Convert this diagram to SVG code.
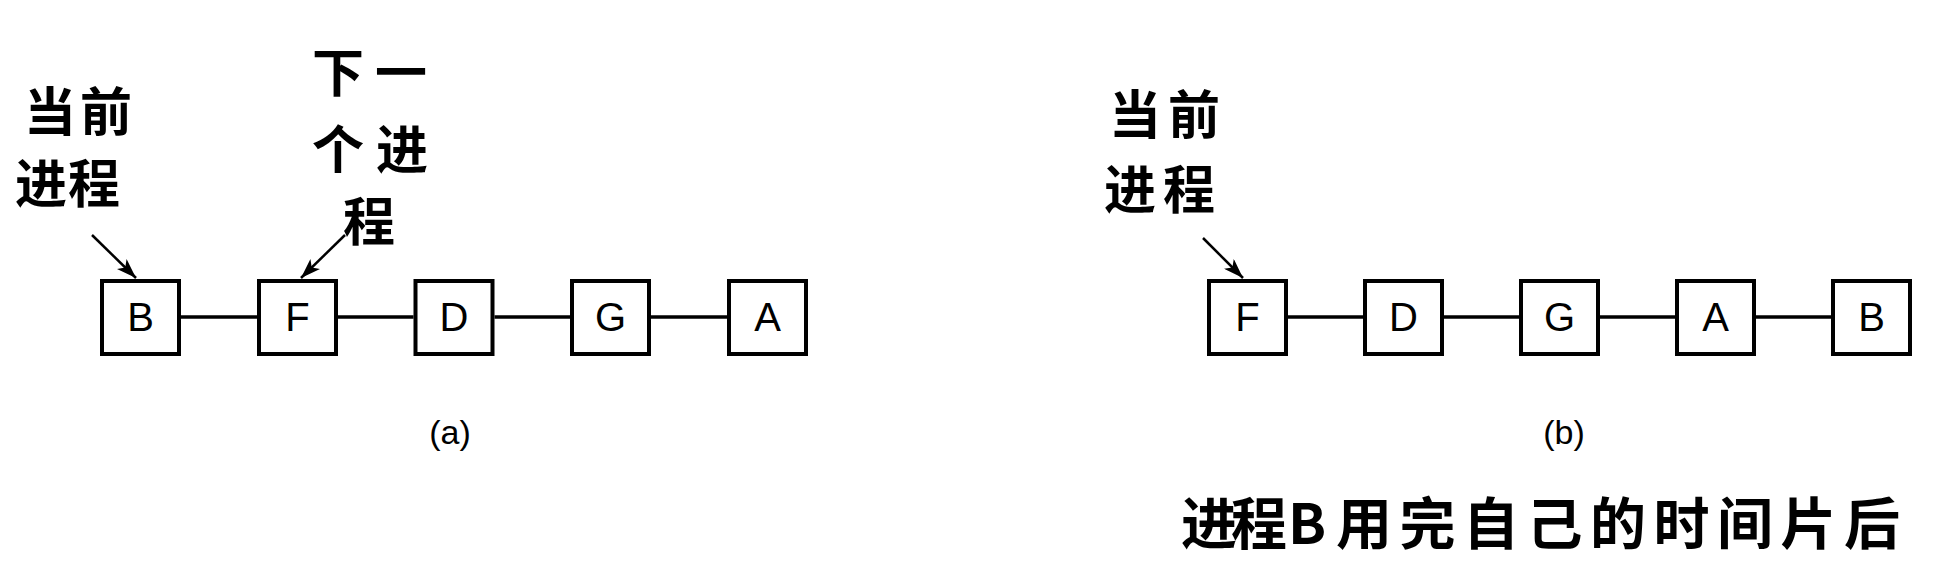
<svg xmlns="http://www.w3.org/2000/svg" width="1950" height="580" viewBox="0 0 1950 580">
<style>
.box{fill:#fff;stroke:#000;stroke-width:4}
.lbl{font-family:"Liberation Sans",Arial,sans-serif;font-size:40px;text-anchor:middle;fill:#000}
.cap{font-family:"Liberation Sans",Arial,sans-serif;font-size:34px;text-anchor:middle;fill:#000}
.cjk{font-family:"Noto Sans CJK SC","Noto Sans",sans-serif;font-weight:700;font-size:52px;fill:#000}
.big{font-family:"Noto Sans CJK SC","Noto Sans",sans-serif;font-weight:700;font-size:56px;fill:#000}
.link{stroke:#000;stroke-width:3.5;fill:none}
.arr{stroke:#000;stroke-width:2.5;fill:none;marker-end:url(#ah)}
</style>
<defs>
<marker id="ah" markerUnits="userSpaceOnUse" markerWidth="22" markerHeight="14" refX="20" refY="7" orient="auto">
<path d="M0,0 L20,7 L0,14 L5,7 Z" fill="#000"/>
</marker>
</defs>
<rect width="1950" height="580" fill="#fff"/>
<g id="connectors">
<line class="link" x1="181" y1="317" x2="257" y2="317"/>
<line class="link" x1="338" y1="317" x2="413.5" y2="317"/>
<line class="link" x1="494.5" y1="317" x2="570" y2="317"/>
<line class="link" x1="651" y1="317" x2="727" y2="317"/>
<line class="link" x1="1288" y1="317" x2="1363" y2="317"/>
<line class="link" x1="1444" y1="317" x2="1519" y2="317"/>
<line class="link" x1="1600" y1="317" x2="1675" y2="317"/>
<line class="link" x1="1756" y1="317" x2="1831" y2="317"/>
<line class="arr" x1="92" y1="235" x2="136" y2="278"/>
<line class="arr" x1="345" y1="235" x2="301" y2="278"/>
<line class="arr" x1="1203" y1="238" x2="1243" y2="278"/>
</g>
<g id="a-B"><rect class="box" x="102" y="281" width="77" height="73"/><text class="lbl" x="140.5" y="331">B</text></g>
<g id="a-F"><rect class="box" x="259" y="281" width="77" height="73"/><text class="lbl" x="297.5" y="331">F</text></g>
<g id="a-D"><rect class="box" x="415.5" y="281" width="77" height="73"/><text class="lbl" x="454" y="331">D</text></g>
<g id="a-G"><rect class="box" x="572" y="281" width="77" height="73"/><text class="lbl" x="610.5" y="331">G</text></g>
<g id="a-A"><rect class="box" x="729" y="281" width="77" height="73"/><text class="lbl" x="767.5" y="331">A</text></g>
<g id="b-F"><rect class="box" x="1209" y="281" width="77" height="73"/><text class="lbl" x="1247.5" y="331">F</text></g>
<g id="b-D"><rect class="box" x="1365" y="281" width="77" height="73"/><text class="lbl" x="1403.5" y="331">D</text></g>
<g id="b-G"><rect class="box" x="1521" y="281" width="77" height="73"/><text class="lbl" x="1559.5" y="331">G</text></g>
<g id="b-A"><rect class="box" x="1677" y="281" width="77" height="73"/><text class="lbl" x="1715.5" y="331">A</text></g>
<g id="b-B"><rect class="box" x="1833" y="281" width="77" height="73"/><text class="lbl" x="1871.5" y="331">B</text></g>
<g id="label-a-current">
<text class="cjk" x="24 80" y="131">当前</text>
<text class="cjk" x="15 68" y="203">进程</text>
</g>
<g id="label-a-next">
<text class="cjk" x="312 375" y="92">下一</text>
<text class="cjk" x="312 376" y="169">个进</text>
<text class="cjk" x="343" y="241">程</text>
</g>
<g id="label-b-current">
<text class="cjk" x="1109 1168" y="134">当前</text>
<text class="cjk" x="1104 1163" y="209">进程</text>
</g>
<g id="captions">
<text class="cap" x="450" y="444">(a)</text>
<text class="cap" x="1564" y="444">(b)</text>
</g>
<g id="title">
<text class="big" x="1181 1231 1288 1336 1399.5 1463 1526.5 1590 1653.5 1717 1780.5 1844" y="544">进程B用完自己的时间片后</text>
</g>
</svg>
